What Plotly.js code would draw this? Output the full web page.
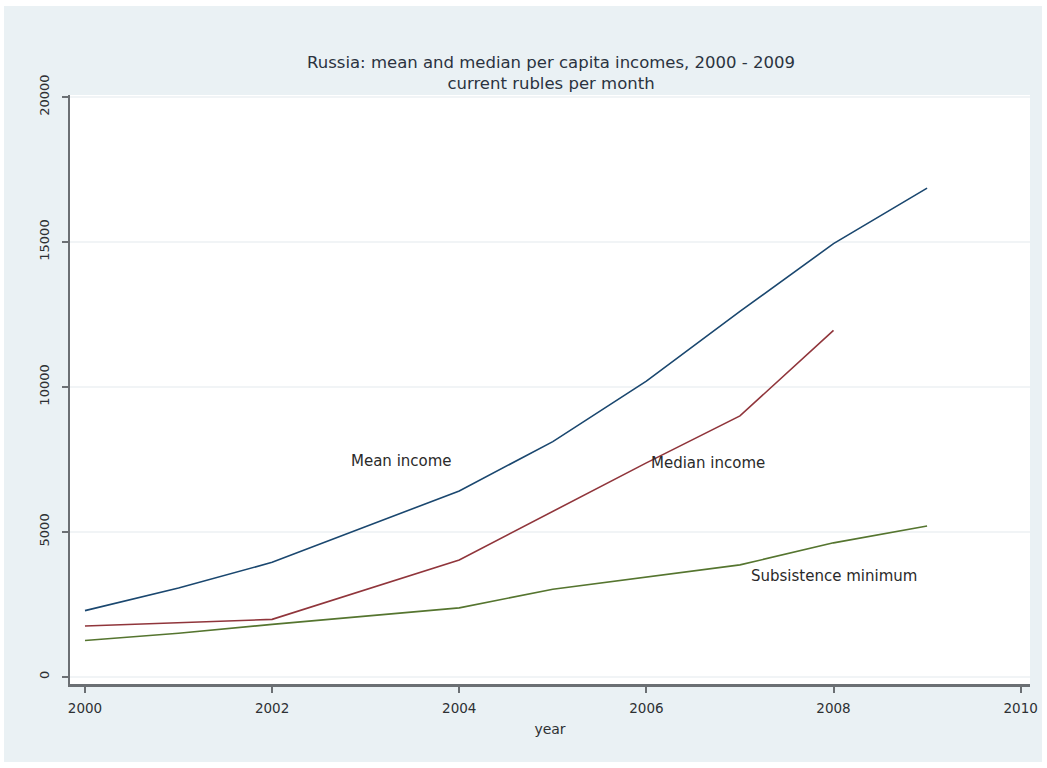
<!DOCTYPE html>
<html>
<head>
<meta charset="utf-8">
<script src="https://cdn.plot.ly/plotly-3.0.1.min.js"></script>
<style>
  html, body { margin: 0; padding: 0; background: #ffffff; }
  #chart { position: absolute; left: 4px; top: 6px; width: 1038px; height: 756px; }
</style>
</head>
<body>
<div id="chart"></div>
<script>
// Per capita incomes in Russia, current rubles per month
const years = [2000, 2001, 2002, 2003, 2004, 2005, 2006, 2007, 2008, 2009];
const meanIncome = [2281, 3062, 3947, 5170, 6410, 8112, 10196, 12603, 14941, 16856];

const medianYears = [2000, 2002, 2004, 2006, 2007, 2008];
const medianIncome = [1750, 1980, 4030, 7380, 9000, 11950];

const subsistenceMin = [1250, 1500, 1808, 2100, 2376, 3018, 3450, 3860, 4620, 5200];

const yTicks = [0, 5000, 10000, 15000, 20000];
const xTicks = [2000, 2002, 2004, 2006, 2008, 2010];

const lineLabels = [
  { text: 'Mean income', x: 2002.82, y: 7450 },
  { text: 'Median income', x: 2006.03, y: 7380 },
  { text: 'Subsistence minimum', x: 2007.1, y: 3480 }
];

const axisColor = '#6b6f73';
const textColor = '#2d3033';
const fontFamily = 'DejaVu Sans, Liberation Sans, Arial, sans-serif';

const traces = [
  { x: years, y: meanIncome, name: 'Mean income', mode: 'lines',
    line: { color: '#1a476f', width: 1.6 } },
  { x: medianYears, y: medianIncome, name: 'Median income', mode: 'lines',
    line: { color: '#90353b', width: 1.6 } },
  { x: years, y: subsistenceMin, name: 'Subsistence minimum', mode: 'lines',
    line: { color: '#55752f', width: 1.6 } }
];

const layout = {
  width: 1038,
  height: 756,
  paper_bgcolor: '#eaf1f4',
  plot_bgcolor: '#ffffff',
  showlegend: false,
  margin: { l: 66, r: 12, t: 89, b: 78 },
  font: { family: fontFamily, color: textColor, size: 13 },
  title: {
    text: 'Russia: mean and median per capita incomes, 2000 - 2009<br>current rubles per month',
    font: { family: fontFamily, size: 16.5, color: '#2b3340' },
    x: 0.527, xanchor: 'center',
    y: 0.918, yanchor: 'middle'
  },
  xaxis: {
    range: [1999.84, 2010.1],
    tickvals: xTicks,
    ticktext: xTicks.map(String),
    showgrid: false,
    zeroline: false,
    showline: true,
    linecolor: axisColor,
    linewidth: 2.5,
    ticks: 'outside',
    ticklen: 6,
    tickwidth: 2,
    tickcolor: axisColor,
    ticklabelstandoff: 4,
    tickfont: { family: fontFamily, size: 13.5, color: textColor },
    title: { text: 'year', font: { family: fontFamily, size: 14, color: textColor }, standoff: 10 }
  },
  yaxis: {
    range: [-250, 20070],
    tickvals: yTicks,
    ticktext: yTicks.map(String),
    tickangle: -90,
    showgrid: true,
    gridcolor: '#f1f4f6',
    gridwidth: 1.5,
    zeroline: false,
    showline: true,
    linecolor: axisColor,
    linewidth: 2.5,
    ticks: 'outside',
    ticklen: 6,
    tickwidth: 2,
    tickcolor: axisColor,
    ticklabelstandoff: 7,
    tickfont: { family: fontFamily, size: 13, color: textColor }
  },
  annotations: lineLabels.map(l => ({
    text: l.text, x: l.x, y: l.y, xref: 'x', yref: 'y',
    xanchor: 'left', yanchor: 'middle', showarrow: false,
    font: { family: fontFamily, size: 15, color: '#2a2a2a' }
  }))
};

Plotly.newPlot('chart', traces, layout, { displayModeBar: false, staticPlot: true });
</script>
</body>
</html>
